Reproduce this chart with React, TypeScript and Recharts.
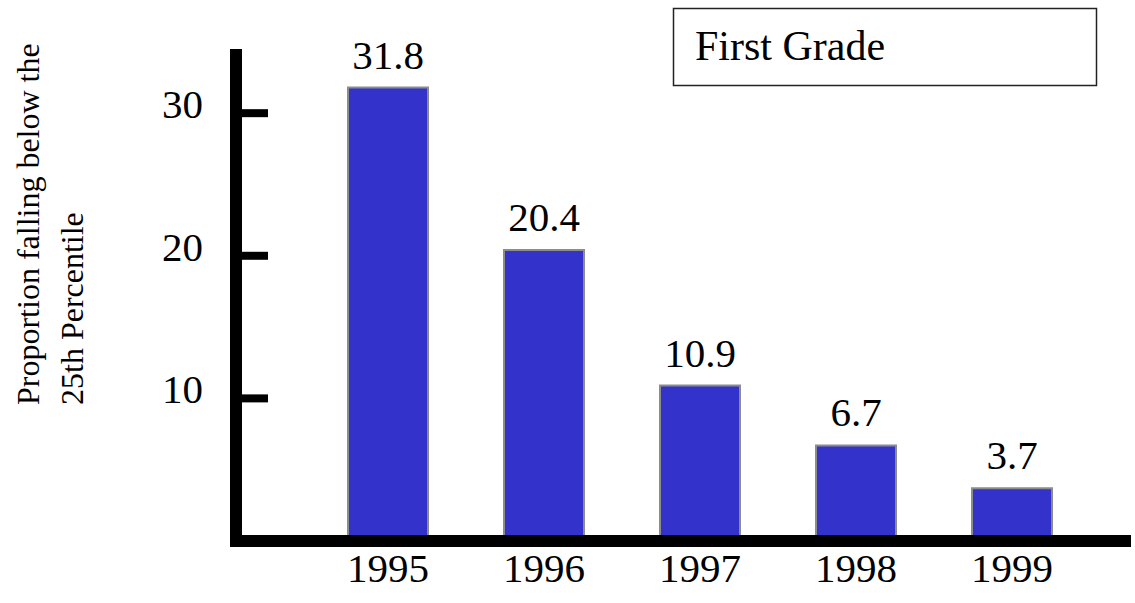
import React from 'react';
import { BarChart, Bar, XAxis, YAxis, LabelList } from 'recharts';

const years = ['1995', '1996', '1997', '1998', '1999'];
const proportions = [31.8, 20.4, 10.9, 6.7, 3.7];
const yTicks = [10, 20, 30];
const chartTitle = 'First Grade';
const yTitleLines = ['Proportion falling below the', '25th Percentile'];

const data = years.map((year, i) => ({ year, value: proportions[i] }));

const FONT = '"Liberation Serif", "Times New Roman", serif';

const YTick = (props: any) => {
  const { x, y, payload } = props;
  return (
    <g>
      <line x1={x + 6} x2={x + 32} y1={y} y2={y} stroke="#000" strokeWidth={8} />
      <text x={x - 33} y={y + 5} textAnchor="end" fontSize={41} fontFamily={FONT} fill="#000">
        {payload.value}
      </text>
    </g>
  );
};

const YTitle = () => (
  <text
    transform="translate(39,405) rotate(-90)"
    textAnchor="start"
    fontSize={32}
    fontFamily={FONT}
    fill="#000"
  >
    <tspan x={0} dy={0}>{yTitleLines[0]}</tspan>
    <tspan x={0} dy={44}>{yTitleLines[1]}</tspan>
  </text>
);

export default function App() {
  return (
    <div style={{ position: 'absolute', left: 0, top: 0, width: 1135, height: 603, background: '#fff' }}>
      <BarChart
        width={1135}
        height={603}
        data={data}
        margin={{ top: 49, right: 10, bottom: 12, left: 0 }}
      >
        <XAxis
          dataKey="year"
          type="category"
          padding={{ left: 74, right: 35 }}
          axisLine={{ stroke: '#000', strokeWidth: 12, strokeLinecap: 'square' }}
          tickLine={false}
          tickSize={0}
          tickMargin={12}
          height={50}
          tick={{ fontSize: 41, fill: '#000', fontFamily: FONT }}
          interval={0}
        />
        <YAxis
          width={236}
          domain={[0, 34.5]}
          ticks={yTicks}
          axisLine={{ stroke: '#000', strokeWidth: 12 }}
          tickLine={false}
          tickSize={0}
          tickMargin={0}
          tick={<YTick />}
          allowDataOverflow
        />
        <Bar
          dataKey="value"
          fill="#3333CC"
          stroke="#8c8c8c"
          strokeWidth={2}
          barSize={80}
          isAnimationActive={false}
        >
          <LabelList
            dataKey="value"
            position="top"
            offset={19}
            fontSize={41}
            fontFamily={FONT}
            fill="#000"
          />
        </Bar>
      </BarChart>
      <svg
        width={1135}
        height={603}
        style={{ position: 'absolute', left: 0, top: 0, pointerEvents: 'none' }}
      >
        <YTitle />
        <rect x={673.5} y={8.5} width={423} height={77} fill="none" stroke="#222" strokeWidth={1.5} />
        <text x={695} y={60} fontSize={42} fontFamily={FONT} fill="#000">{chartTitle}</text>
      </svg>
    </div>
  );
}
